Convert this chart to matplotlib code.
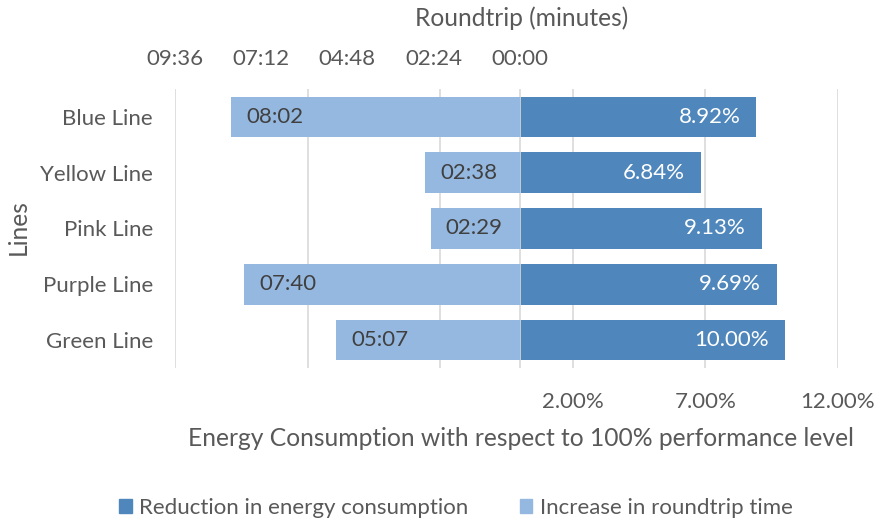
import matplotlib
matplotlib.use('Agg')
import matplotlib.pyplot as plt
from matplotlib.patches import Patch

plt.rcParams['font.family'] = ['Lato', 'DejaVu Sans']

# data
lines = ['Blue Line', 'Yellow Line', 'Pink Line', 'Purple Line', 'Green Line']
energy_pct = [8.92, 6.84, 9.13, 9.69, 10.00]          # reduction in energy consumption (%)
roundtrip_sec = [482, 158, 149, 460, 307]            # increase in roundtrip time (mm:ss)
top_ticks_sec = [576, 432, 288, 144, 0]
bottom_ticks = [-13, -8, -3, 2, 7, 12]

DARK = '#4F87BC'
LIGHT = '#95B8E0'
TXT = '#595959'
GRID = '#D9D9D9'
FS = 16
FS_TITLE = 17.7

def mmss(s):
    return f"{int(s) // 60:02d}:{int(s) % 60:02d}"

fig = plt.figure(figsize=(8.78, 5.22), dpi=100)
ax = fig.add_axes([175/878, 1 - 368/522, (838 - 175)/878, (368 - 89)/522])

y = list(range(len(lines)))
ax.barh(y, energy_pct, height=0.73, color=DARK, zorder=3)
ax.set_xlim(-13, 12)
ax.set_ylim(len(lines) - 0.5, -0.5)
ax.set_xticks(bottom_ticks)
ax.set_xticklabels(['' if t < 0 else f"{t:.2f}%" for t in bottom_ticks])
ax.set_yticks(y)
ax.set_yticklabels(lines)
ax.grid(axis='x', color=GRID, linewidth=1.2, zorder=0)
ax.axvline(0, color=GRID, linewidth=1.2, zorder=4)
for s in ax.spines.values():
    s.set_visible(False)
ax.tick_params(axis='both', length=0, colors=TXT, labelsize=FS)
ax.tick_params(axis='y', pad=16)
ax.tick_params(axis='x', pad=17)

for yi, v in zip(y, energy_pct):
    ax.text(v - 0.6, yi, f"{v:.2f}%", ha='right', va='center', color='white', fontsize=FS, zorder=5)

# top axis for roundtrip time (reversed)
ax2 = ax.twiny()
sec_per_pct = 576 / 13
ax2.set_xlim(13 * sec_per_pct, -12 * sec_per_pct)
ax2.barh(y, roundtrip_sec, height=0.73, color=LIGHT, zorder=2)
ax2.set_ylim(len(lines) - 0.5, -0.5)
ax2.set_xticks(top_ticks_sec)
ax2.set_xticklabels([mmss(t) for t in top_ticks_sec])
ax2.tick_params(axis='x', length=0, colors=TXT, labelsize=FS, pad=14.5)
for s in ax2.spines.values():
    s.set_visible(False)
for yi, v in zip(y, roundtrip_sec):
    ax2.text(v - 25, yi, mmss(v), ha='left', va='center', color='#404040', fontsize=FS, zorder=5)

fig.text(522/878, 1 - 18/522, 'Roundtrip (minutes)', ha='center', va='center', color=TXT, fontsize=FS_TITLE)
fig.text(521/878, 1 - 438/522, 'Energy Consumption with respect to 100% performance level',
         ha='center', va='center', color=TXT, fontsize=FS_TITLE)
fig.text(18/878, 1 - 227/522, 'Lines', rotation=90, ha='center', va='center', color=TXT, fontsize=FS_TITLE)

handles = [Patch(color=DARK, label='Reduction in energy consumption'),
           Patch(color=LIGHT, label='Increase in roundtrip time')]
fig.legend(handles=handles, loc='center', bbox_to_anchor=(456/878, 1 - 508/522), ncol=2,
           frameon=False, fontsize=FS, labelcolor=TXT, handlelength=0.55, handleheight=0.55,
           handletextpad=0.35, columnspacing=2.3)

fig.savefig('out.png', dpi=100)
